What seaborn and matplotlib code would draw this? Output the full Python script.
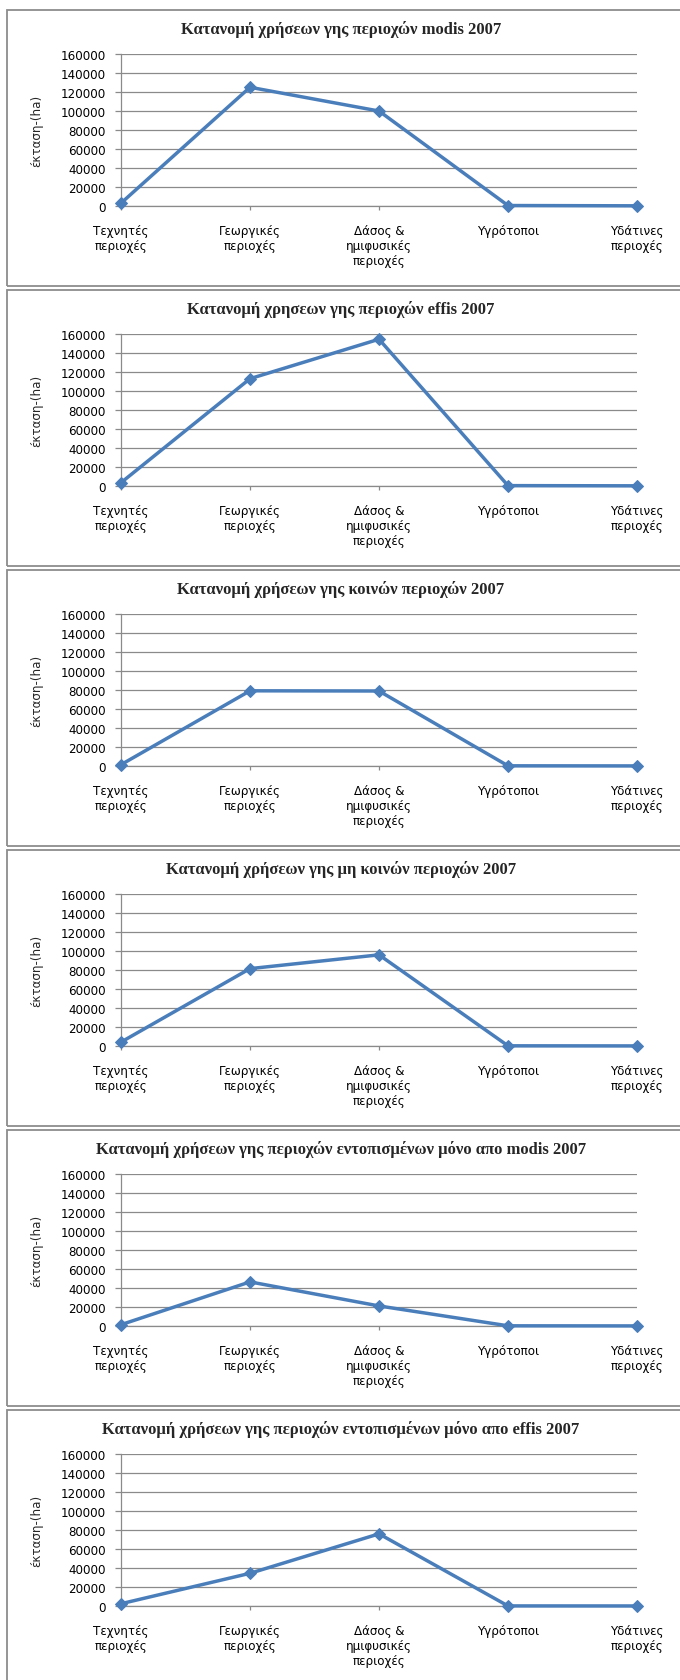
import matplotlib
matplotlib.use("Agg")
import matplotlib.pyplot as plt
from matplotlib.patches import Rectangle
import seaborn as sns
import pandas as pd

# Land-use categories (x axis)
categories = [
    "Τεχνητές\nπεριοχές",
    "Γεωργικές\nπεριοχές",
    "Δάσος &\nημιφυσικές\nπεριοχές",
    "Υγρότοποι",
    "Υδάτινες\nπεριοχές",
]

# Area per category, hectares
modis_2007 = [3100, 125000, 100000, 600, 300]
effis_2007 = [3600, 113000, 154500, 500, 300]
common_2007 = [1500, 79200, 79000, 300, 200]
noncommon_2007 = [4200, 81500, 96000, 300, 200]
only_modis_2007 = [1500, 46500, 21200, 300, 200]
only_effis_2007 = [2500, 34500, 76000, 200, 150]

titles = [
    "Κατανομή χρήσεων γης περιοχών modis 2007",
    "Κατανομή χρησεων γης περιοχών effis 2007",
    "Κατανομή χρήσεων γης κοινών περιοχών 2007",
    "Κατανομή χρήσεων γης μη κοινών περιοχών 2007",
    "Κατανομή χρήσεων γης περιοχών εντοπισμένων μόνο απο modis 2007",
    "Κατανομή χρήσεων γης περιοχών εντοπισμένων μόνο απο effis 2007",
]
series = [modis_2007, effis_2007, common_2007, noncommon_2007,
          only_modis_2007, only_effis_2007]

y_ticks = list(range(0, 160001, 20000))
y_label = "έκταση-(ha)"

sns.set_style("white")
plt.rcParams["font.family"] = ["DejaVu Sans"]

W, H = 680, 1681
fig = plt.figure(figsize=(W / 100, H / 100), dpi=100)

LINE_BLUE = "#4a7ebb"
GRID = "#8a8a8a"
pitch = 280
ax_left, ax_right = 121, 637

for k, (title, vals) in enumerate(zip(titles, series)):
    top = 10.5 + pitch * k
    # panel frame
    fig.add_artist(Rectangle((7 / W, 1 - (top + 276) / H), (W + 10) / W, 276 / H,
                             transform=fig.transFigure, fill=False,
                             edgecolor="#8c8c8c", linewidth=1.3, clip_on=False))

    y_top = top + 44.5
    y_zero = top + 196.6
    ax = fig.add_axes([ax_left / W, 1 - y_zero / H,
                       (ax_right - ax_left) / W, (y_zero - y_top) / H])
    df = pd.DataFrame({"category": categories, "area": vals})
    sns.lineplot(data=df, x="category", y="area", sort=False, ax=ax,
                 color=LINE_BLUE, linewidth=2.5, marker="D", markersize=6.5,
                 markeredgecolor=LINE_BLUE, clip_on=False, zorder=5)

    ax.set_xlim(0, len(categories) - 1)
    ax.set_ylim(0, 160000)
    ax.set_yticks(y_ticks)
    ax.set_yticklabels([str(v) for v in y_ticks])
    ax.set_xticks(range(len(categories)))
    ax.set_xticklabels(categories, linespacing=1.2)
    ax.set_xlabel("")
    ax.set_ylabel(y_label, fontsize=8.6, va="center")
    ax.yaxis.set_label_coords((37 - ax_left) / (ax_right - ax_left), 0.5)

    ax.grid(axis="y", color=GRID, linewidth=0.9)
    ax.grid(axis="x", visible=False)
    for side in ("top", "right"):
        ax.spines[side].set_visible(False)
    for side in ("left", "bottom"):
        ax.spines[side].set_color(GRID)
        ax.spines[side].set_linewidth(0.9)
    ax.tick_params(axis="y", left=True, length=4.3, width=0.9, color=GRID,
                   pad=6.5, labelsize=8.6, labelcolor="black")
    ax.tick_params(axis="x", bottom=True, length=3, width=0.9, color=GRID,
                   pad=10, labelsize=8.6, labelcolor="black")

    fig.text(341 / W, 1 - (top + 19) / H, title, ha="center", va="center",
             fontsize=12, fontweight="bold", family=["Liberation Serif"])

fig.savefig("out.png", dpi=100, facecolor="white")
